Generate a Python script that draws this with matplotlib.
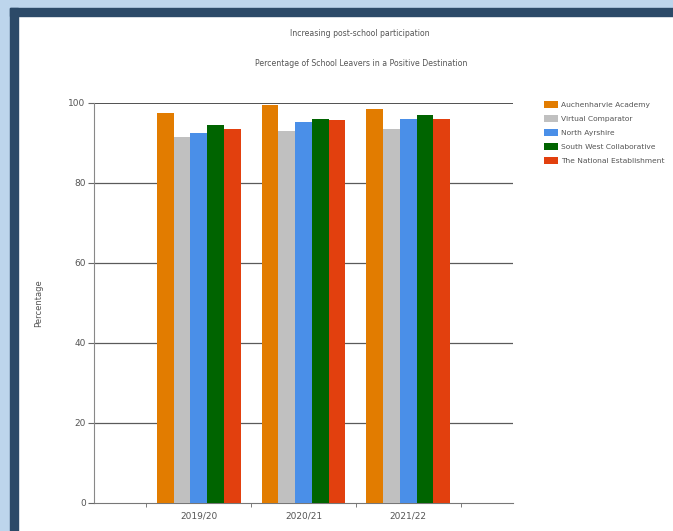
import matplotlib
matplotlib.use('Agg')
import matplotlib.pyplot as plt
from matplotlib.patches import Rectangle
import numpy as np

years = ['2019/20', '2020/21', '2021/22']
series = ['Auchenharvie Academy', 'Virtual Comparator', 'North Ayrshire',
          'South West Collaborative', 'The National Establishment']
auchenharvie = [97.5, 99.5, 98.6]
virtual_comp = [91.5, 93.0, 93.5]
north_ayrshire = [92.5, 95.3, 96.0]
south_west = [94.5, 96.0, 97.0]
national = [93.5, 95.7, 96.0]
values = [auchenharvie, virtual_comp, north_ayrshire, south_west, national]
colours = ['#e27c00', '#c0c0c0', '#4a8fe8', '#006400', '#e2400e']

W, H = 673, 531
plt.rcParams['font.family'] = ['Liberation Sans Narrow', 'DejaVu Sans']
txt = '#555555'

fig = plt.figure(figsize=(W / 100, H / 100), dpi=100)
fig.patch.set_facecolor('white')

# frame bands round the chart
fig.patches.append(Rectangle((0, 1 - 8 / H), 1, 8 / H, transform=fig.transFigure,
                             color='#bdd5ec', zorder=0))
fig.patches.append(Rectangle((0, 0), 10 / W, 1, transform=fig.transFigure,
                             color='#bdd5ec', zorder=0))
fig.patches.append(Rectangle((10 / W, 1 - 16 / H), 1, 8 / H, transform=fig.transFigure,
                             color='#2c4a68', zorder=1))
fig.patches.append(Rectangle((10 / W, 0), 8 / W, 1 - 8 / H, transform=fig.transFigure,
                             color='#2c4a68', zorder=1))

ax = fig.add_axes([94 / W, 28 / H, (513 - 94) / W, 400 / H])
x = np.arange(len(years))
bw = 0.16
for i, (name, vals) in enumerate(zip(series, values)):
    ax.bar(x + (i - 2) * bw, vals, bw, color=colours[i], label=name, zorder=3)

ax.set_xlim(-1, 3)
ax.set_ylim(0, 100)
ax.set_yticks([0, 20, 40, 60, 80, 100])
ax.set_xticks(x)
ax.set_xticklabels(years)
ax.set_xticks([-0.5, 0.5, 1.5, 2.5], minor=True)
ax.tick_params(axis='x', which='major', length=0, labelsize=6.5, labelcolor=txt, pad=6)
ax.tick_params(axis='x', which='minor', length=3, color='#666666', direction='out')
ax.tick_params(axis='y', length=4, color='#666666', labelsize=6.5, labelcolor=txt, pad=2)
for yv in [20, 40, 60, 80]:
    ax.axhline(yv, color='#5a5a5a', lw=0.9, zorder=1)
ax.axhline(100, color='#222222', lw=1.1, zorder=1)
for s in ['top', 'right']:
    ax.spines[s].set_visible(False)
ax.spines['left'].set_color('#888888')
ax.spines['bottom'].set_color('#777777')
ax.set_ylabel('Percentage', fontsize=6, color=txt, labelpad=18)

fig.text(360 / W, 1 - 33 / H, 'Increasing post-school participation',
         ha='center', va='center', fontsize=5.6, color=txt)
fig.text(361 / W, 1 - 63 / H, 'Percentage of School Leavers in a Positive Destination',
         ha='center', va='center', fontsize=5.6, color=txt)

leg = ax.legend(loc='upper left', bbox_to_anchor=(541 / W, 1 - 98 / H),
                bbox_transform=fig.transFigure, frameon=False, fontsize=5.4,
                handlelength=1.8, handleheight=1.0, handletextpad=0.5,
                labelspacing=0.95, borderaxespad=0)
for t in leg.get_texts():
    t.set_color(txt)

fig.savefig('out.png', dpi=100)
